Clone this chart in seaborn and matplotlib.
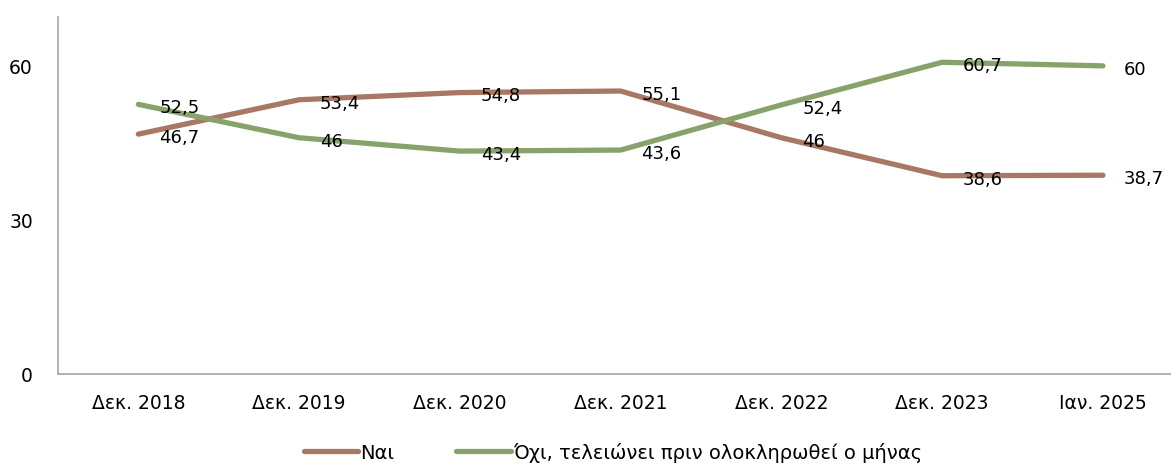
import matplotlib
matplotlib.use("Agg")
import matplotlib.pyplot as plt
import seaborn as sns
import pandas as pd
import numpy as np

categories = ["Δεκ. 2018", "Δεκ. 2019", "Δεκ. 2020", "Δεκ. 2021", "Δεκ. 2022", "Δεκ. 2023", "Ιαν. 2025"]
nai = [46.7, 53.4, 54.8, 55.1, 46, 38.6, 38.7]
oxi = [52.5, 46, 43.4, 43.6, 52.4, 60.7, 60]
series_names = ["Ναι", "Όχι, τελειώνει πριν ολοκληρωθεί ο μήνας"]
colors = ["#A87864", "#87A36B"]

df = pd.DataFrame({
    "cat": categories * 2,
    "x": list(range(len(categories))) * 2,
    "value": nai + oxi,
    "series": [series_names[0]] * len(nai) + [series_names[1]] * len(oxi),
})

sns.set_theme(style="white")
plt.rcParams['font.family'] = ['DejaVu Sans']
plt.rcParams['text.color'] = 'black'
plt.rcParams['xtick.color'] = 'black'
plt.rcParams['ytick.color'] = 'black'

fig = plt.figure(figsize=(11.71, 4.64), dpi=100)
ax = fig.add_axes([0.0495, 0.192, 0.961, 0.769])

sns.lineplot(data=df, x="x", y="value", hue="series", palette=colors,
             linewidth=3.8, ax=ax, legend=True, sort=False)
for line in ax.lines:
    line.set_solid_capstyle("round")

# data labels
def fmt(v):
    s = f"{v:g}"
    return s.replace(".", ",")

for i, v in enumerate(nai):
    ax.annotate(fmt(v), (i, v), xytext=(15, -2), textcoords="offset points",
                ha="left", va="center", fontsize=13, color="black")
for i, v in enumerate(oxi):
    ax.annotate(fmt(v), (i, v), xytext=(15, -2), textcoords="offset points",
                ha="left", va="center", fontsize=13, color="black")

ax.set_xlim(-0.5, len(categories) - 0.5)
ax.set_ylim(0, 69.5)
ax.set_yticks([0, 30, 60])
ax.set_xticks(range(len(categories)))
ax.set_xticklabels(categories)
ax.set_xticks(np.arange(-0.5, len(categories), 1.0), minor=True)
ax.tick_params(axis="x", which="major", length=0, labelsize=13.5, pad=14, labelcolor="black")
ax.tick_params(axis="x", which="minor", length=7, width=1, color="#A6A6A6", direction="out")
ax.tick_params(axis="y", length=7, width=1, color="#A6A6A6", direction="out", labelsize=13.5,
               pad=11, labelcolor="black")
ax.set_xlabel("")
ax.set_ylabel("")
for side in ["top", "right"]:
    ax.spines[side].set_visible(False)
for side in ["left", "bottom"]:
    ax.spines[side].set_color("#A6A6A6")
    ax.spines[side].set_linewidth(1.2)

handles, labels = ax.get_legend_handles_labels()
leg = ax.legend(handles, labels, loc="lower center", bbox_to_anchor=(0.5 - 0.007, -0.268),
                ncol=2, frameon=False, fontsize=14, handlelength=2.8, handletextpad=0.1,
                columnspacing=3.2, borderaxespad=0)
for t in leg.get_texts():
    t.set_color("black")

fig.savefig("out.png", dpi=100)
